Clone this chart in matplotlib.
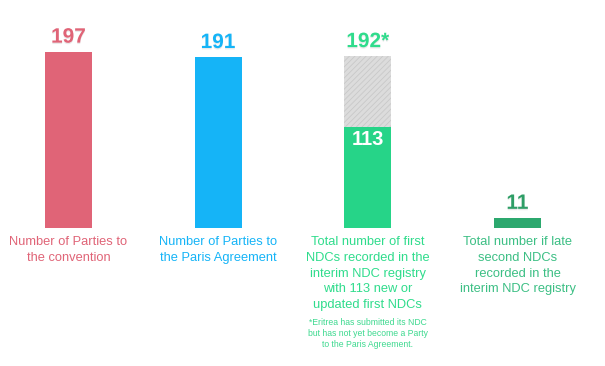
import matplotlib
matplotlib.use("Agg")
import matplotlib.pyplot as plt
import matplotlib.patheffects as pe

categories = ["Parties to convention", "Parties to Paris Agreement",
              "First NDCs", "Late second NDCs"]
values = [197, 191, 192, 11]
new_first_ndcs = 113
value_labels = ["197", "191", "192*", "11"]
bar_labels = [
    "Number of Parties to\nthe convention",
    "Number of Parties to\nthe Paris Agreement",
    "Total number of first\nNDCs recorded in the\ninterim NDC registry\nwith 113 new or\nupdated first NDCs",
    "Total number if late\nsecond NDCs\nrecorded in the\ninterim NDC registry",
]
footnote = "*Eritrea has submitted its NDC\nbut has not yet become a Party\nto the Paris Agreement."

bar_colors = ["#e06477", "#15b4f7", "#dcdcdc", "#2ca86e"]
label_colors = ["#e06477", "#15b4f7", "#2fdc8c", "#3cbf84"]
value_colors = ["#e06477", "#15b4f7", "#2fdc8c", "#2e9e66"]
green = "#26d488"

plt.rcParams['font.family'] = ['Liberation Sans', 'DejaVu Sans']
plt.rcParams['hatch.linewidth'] = 0.6

fig = plt.figure(figsize=(6.05, 3.66), dpi=100)
fig.patch.set_facecolor("white")
ax = fig.add_axes([0, 0.377, 1, 0.623])
ax.set_xlim(-0.4576, 3.584)
ax.set_ylim(0, 255.2)
ax.axis("off")

x = list(range(len(categories)))
width = 0.314
shadow = [pe.SimplePatchShadow(offset=(0, -1.5), shadow_rgbFace="#888888", alpha=0.25), pe.Normal()]

for i, v in enumerate(values):
    if i == 2:
        ax.bar(x[i], v, width=width, color=bar_colors[i], edgecolor="#c8c8c8",
               hatch="//////", linewidth=0, zorder=2)
        ax.bar(x[i], new_first_ndcs, width=width, color=green, linewidth=0, zorder=3,
               path_effects=shadow)
        ax.text(x[i], new_first_ndcs - 3, str(new_first_ndcs), ha="center", va="top",
                color="white", fontsize=14.5, fontweight="bold", zorder=4)
    else:
        ax.bar(x[i], v, width=width, color=bar_colors[i], linewidth=0, zorder=2,
               path_effects=shadow)
    ax.text(x[i], v + 6, value_labels[i], ha="center", va="bottom",
            color=value_colors[i], fontsize=15, fontweight="bold", zorder=4,
            path_effects=[pe.withSimplePatchShadow(offset=(0, -1), shadow_rgbFace="#999999", alpha=0.2)])
    ax.text(x[i], -9, bar_labels[i], ha="center", va="top", color=label_colors[i],
            fontsize=9.3, linespacing=1.42, zorder=4)

ax.text(x[2], -101, footnote, ha="center", va="top", color="#3dd98f",
        fontsize=6.2, linespacing=1.3, clip_on=False)

fig.savefig("out.png", dpi=100, facecolor="white")
